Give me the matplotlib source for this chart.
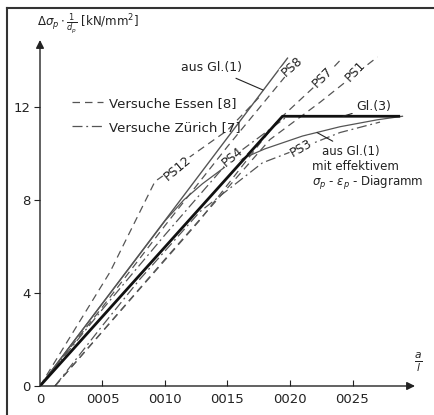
import numpy as np
import matplotlib
matplotlib.use("Agg")
import matplotlib.pyplot as plt
from matplotlib.lines import Line2D

# Werte (x = a/l, y = delta sigma_p / d_p in kN/mm2)
gl1_x = [0.0, 0.0198]
gl1_y = [0.0, 14.1]

gl3_x = [0.0, 0.0194, 0.0287]
gl3_y = [0.0, 11.6, 11.6]

eff_x = [0.0, 0.010, 0.0115, 0.013, 0.015, 0.018, 0.021, 0.024, 0.027, 0.029]
eff_y = [0.0, 7.1, 8.0, 8.7, 9.5, 10.2, 10.75, 11.15, 11.45, 11.6]

# Versuche Essen [8]
ps8_x = [0.0, 0.005, 0.010, 0.015, 0.0196]
ps8_y = [0.0, 3.4, 6.9, 10.3, 13.3]
ps7_x = [0.0012, 0.0128, 0.019, 0.0226, 0.024]
ps7_y = [0.0, 7.14, 11.4, 13.2, 14.0]
ps1_x = [0.0012, 0.0104, 0.0184, 0.0224, 0.0252, 0.027]
ps1_y = [0.0, 5.7, 10.6, 12.2, 13.4, 14.15]
ps12_x = [0.0, 0.0056, 0.0092, 0.0108, 0.0150, 0.0175]
ps12_y = [0.0, 4.9, 8.8, 9.4, 11.0, 12.4]

# Versuche Zuerich [7]
ps4_x = [0.0, 0.005, 0.010, 0.0154, 0.0198]
ps4_y = [0.0, 3.3, 6.5, 9.85, 11.6]
ps3_x = [0.0012, 0.005, 0.008, 0.0128, 0.0178, 0.0209, 0.024, 0.0272]
ps3_y = [0.0, 2.6, 4.6, 7.5, 9.6, 10.24, 10.9, 11.35]

x_ticks = [0.0, 0.005, 0.010, 0.015, 0.020, 0.025]
x_ticklabels = ["0", "0005", "0010", "0015", "0020", "0025"]
y_ticks = [0, 4, 8, 12]

# PS-Beschriftungen: name, x, y, Winkel
ps_labels = [("PS8", 0.0202, 13.72, 42), ("PS7", 0.0226, 13.29, 45),
             ("PS1", 0.0252, 13.55, 46), ("PS12", 0.0110, 9.38, 40),
             ("PS4", 0.0154, 9.85, 40), ("PS3", 0.0209, 10.24, 30)]

txt = "#222222"
gray = "#555555"
dash = (0, (6, 4))
dashdot = (0, (8, 3, 1.5, 3))

fig = plt.figure(figsize=(4.35, 4.15), dpi=100)
ax = fig.add_axes([40 / 435, 29 / 415, 375 / 435, 346 / 415])
ax.set_xlim(0, 0.030)
ax.set_ylim(0, 14.88)

ax.plot(gl1_x, gl1_y, color=gray, lw=1.0)
ax.plot(eff_x, eff_y, color=gray, lw=0.9)
for xs, ys in [(ps8_x, ps8_y), (ps7_x, ps7_y), (ps1_x, ps1_y), (ps12_x, ps12_y)]:
    ax.plot(xs, ys, color=gray, lw=0.9, linestyle=dash)
for xs, ys in [(ps4_x, ps4_y), (ps3_x, ps3_y)]:
    ax.plot(xs, ys, color=gray, lw=0.9, linestyle=dashdot)
ax.plot(gl3_x, gl3_y, color="#111111", lw=2.0)

for name, x, y, rot in ps_labels:
    ax.text(x, y, name, rotation=rot, ha="center", va="center", fontsize=9,
            color=txt, bbox=dict(facecolor="white", edgecolor="none", pad=0.5))

# Achsen mit Pfeilen
for s in ax.spines.values():
    s.set_visible(False)
ax.annotate("", xy=(1, 0), xytext=(0, 0), xycoords="axes fraction",
            arrowprops=dict(arrowstyle="-|>", color="#222222", lw=1.0,
                            mutation_scale=12, shrinkA=0, shrinkB=0))
ax.annotate("", xy=(0, 1), xytext=(0, 0), xycoords="axes fraction",
            arrowprops=dict(arrowstyle="-|>", color="#222222", lw=1.0,
                            mutation_scale=12, shrinkA=0, shrinkB=0))

ax.set_xticks(x_ticks)
ax.set_xticklabels(x_ticklabels)
ax.set_yticks(y_ticks)
ax.tick_params(axis="x", direction="in", length=4, labelsize=9.5, colors=txt, pad=5)
ax.tick_params(axis="y", direction="out", length=4, labelsize=9.5, colors=txt, pad=3)
ax.xaxis.get_major_ticks()[0].tick1line.set_visible(False)

fig.text(37 / 435, 1 - 24 / 415, r"$\Delta\sigma_p\cdot\frac{1}{d_p}$ [kN/mm$^2$]",
         fontsize=8.5, color=txt, ha="left", va="center")
fig.text(418 / 435, 1 - 362 / 415, r"$\frac{a}{l}$", fontsize=11, color=txt,
         ha="center", va="center")

# Legende
handles = [Line2D([], [], color=gray, lw=0.9, linestyle=dash),
           Line2D([], [], color=gray, lw=0.9, linestyle=dashdot)]
leg = ax.legend(handles, ["Versuche Essen [8]", "Versuche Zürich [7]"],
                loc="upper left", bbox_to_anchor=(0.055, 0.87), frameon=False,
                fontsize=9.5, handlelength=2.3, labelspacing=0.85, handletextpad=0.5)
for t in leg.get_texts():
    t.set_color(txt)

# Anmerkungen
ax.annotate("aus Gl.(1)", xy=(0.01784, 12.73), xytext=(0.01376, 13.68),
            fontsize=9, color=txt, ha="center", va="center",
            arrowprops=dict(arrowstyle="-", color=txt, lw=0.8, shrinkA=2, shrinkB=0))
ax.annotate("Gl.(3)", xy=(0.02424, 11.6), xytext=(0.0253, 12.0),
            fontsize=9, color=txt, ha="left", va="center",
            arrowprops=dict(arrowstyle="-", color=txt, lw=0.8, shrinkA=1, shrinkB=0))
ax.annotate("aus Gl.(1)", xy=(0.02216, 10.9), xytext=(0.02256, 10.1),
            fontsize=8.5, color=txt, ha="left", va="center",
            arrowprops=dict(arrowstyle="-", color=txt, lw=0.8, shrinkA=1, shrinkB=0))
ax.text(0.02176, 9.45, "mit effektivem", fontsize=8.5, color=txt, ha="left", va="center")
ax.text(0.02176, 8.72, r"$\sigma_p$ - $\varepsilon_p$ - Diagramm", fontsize=8.5,
        color=txt, ha="left", va="center")

# Rahmen
fig.add_artist(Line2D([7 / 435, 1], [1 - 8 / 415, 1 - 8 / 415], color="#333333", lw=1.5))
fig.add_artist(Line2D([7 / 435, 7 / 435], [0, 1 - 8 / 415], color="#333333", lw=1.5))

fig.savefig("out.png", dpi=100)
